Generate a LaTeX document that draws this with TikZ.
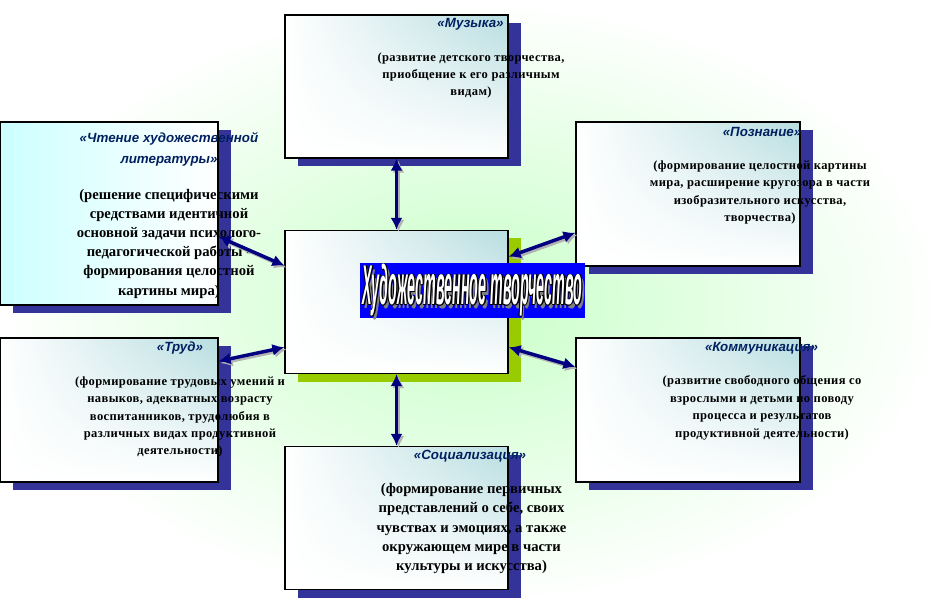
\documentclass[tikz,border=0pt]{standalone}
\usepackage{fontspec}
\setmainfont{Liberation Serif}
\newfontfamily\ttlfont{Liberation Sans}
\newfontfamily\smallbody{Liberation Serif}[LetterSpace=3]
\usetikzlibrary{arrows.meta}
\usetikzlibrary{shadows,shadings}

\definecolor{boxteal}{RGB}{183,221,224}
\definecolor{litcyan}{RGB}{204,255,255}
\definecolor{shadowblue}{RGB}{51,51,153}
\definecolor{shadowgreen}{RGB}{153,204,0}
\definecolor{ttlblue}{RGB}{0,32,96}
\definecolor{arrowblue}{RGB}{0,0,128}
\definecolor{bannerblue}{RGB}{0,0,255}
\definecolor{bggreen}{RGB}{200,255,200}

\newcommand\centertitle{\scalebox{0.255}[1]{Художественное творчество}}

\begin{document}
\begin{tikzpicture}
	[x=0.75pt,y=-0.75pt,inner sep=0pt,
	frame/.style={draw=black,line width=0.9pt,
		drop shadow={opacity=1,fill=shadowblue,shadow xshift=9.75pt,shadow yshift=-6pt}},
	box/.style={frame,shade,upper left=white,upper right=boxteal,lower left=white,lower right=white,
		minimum width=167.25pt,minimum height=107.25pt},
	ttl/.style={font=\ttlfont\bfseries\itshape\fontsize{10}{15.75}\selectfont,text=ttlblue,align=center},
	smalltext/.style={font=\smallbody\bfseries\fontsize{9.4}{13.1}\selectfont,align=center},
	bigtext/.style={font=\bfseries\fontsize{11}{14.4}\selectfont,align=center},
	bigttl/.style={font=\ttlfont\bfseries\itshape\fontsize{42}{42}\selectfont},
	arrowline/.style={{Latex[length=9pt,width=9pt]}-{Latex[length=9pt,width=9pt]},line width=2.6pt,draw=arrowblue},
	arrowshade/.style={arrowline,draw=gray!60,transform canvas={xshift=1.5pt,yshift=-1.5pt}}]
	
	% background
	\shade[inner color=bggreen,outer color=white] (0,0) rectangle (944,605);
	\useasboundingbox (0,0) rectangle (944,605);
	
	% boxes
	\node[box] (muz) at (396.5,86.5) {};
	\node[frame,left color=litcyan,right color=white,minimum width=163.5pt,minimum height=137.25pt] (lit) at (109,213.5) {};
	\node[box,minimum width=168pt,minimum height=108pt] (poz) at (688,194) {};
	\node[box,drop shadow={opacity=1,fill=shadowgreen,shadow xshift=9.75pt,shadow yshift=-6pt}] (cen) at (396.5,302) {};
	\node[box,minimum width=163.5pt,minimum height=108pt] (trud) at (109,410) {};
	\node[box,minimum width=168pt,minimum height=108pt] (kom) at (688,410) {};
	\node[box] (soc) at (396.5,518) {};
	
	% titles and texts
	\node[ttl] (muzT) at (470.5,24) {«Музыка»};
	\node[smalltext] (muzB) at (471,75.5) {(развитие детского творчества,\\приобщение к его различным\\видам)};
	\node[ttl] (litT) at (169,149.5) {«Чтение художественной\\литературы»};
	\node[bigtext] (litB) at (169,243.5) {(решение специфическими\\средствами идентичной\\основной задачи психолого-\\педагогической работы -\\формирования целостной\\картины мира)};
	\node[ttl] (pozT) at (762,132) {«Познание»};
	\node[smalltext] (pozB) at (760,192.5) {(формирование целостной картины\\мира, расширение кругозора в части\\изобразительного искусства,\\творчества)};
	\node[ttl] (trudT) at (180,348) {«Труд»};
	\node[smalltext] (trudB) at (180,417) {(формирование трудовых умений и\\навыков, адекватных возрасту\\воспитанников, трудолюбия в\\различных видах продуктивной\\деятельности)};
	\node[ttl] (komT) at (761.5,348) {«Коммуникация»};
	\node[smalltext] (komB) at (762,408) {(развитие свободного общения со\\взрослыми и детьми по поводу\\процесса и результатов\\продуктивной деятельности)};
	\node[ttl] (socT) at (470,456) {«Социализация»};
	\node[bigtext] (socB) at (471.5,528.5) {(формирование первичных\\представлений о себе, своих\\чувствах и эмоциях, а также\\окружающем мире в части\\культуры и искусства)};
	
	% connectors
	\foreach \from/\to in
	{muz.south/cen.north, cen.south/soc.north, lit.-12/cen.162, cen.22/poz.199, trud.24/cen.202, cen.-22/kom.159}
	{
		\draw[arrowshade] (\from) -- (\to);
		\draw[arrowline] (\from) -- (\to);
	}
	
	% centre banner
	\node[fill=bannerblue,minimum width=168.75pt,minimum height=41.25pt] (banner) at (472.5,290.5) {};
	\node[bigttl,text=gray] (bannerS) at ([xshift=2pt,yshift=-2.5pt]banner.center) {\centertitle};
	\foreach \dx/\dy in {0.6/0,-0.6/0,0/0.6,0/-0.6,0.45/0.45,-0.45/0.45,0.45/-0.45,-0.45/-0.45}
	\node[bigttl,text=black] at ([xshift=\dx pt,yshift=\dy pt]banner.center) {\centertitle};
	\node[bigttl,text=white] (bannerT) at (banner.center) {\centertitle};
\end{tikzpicture}
\end{document}
